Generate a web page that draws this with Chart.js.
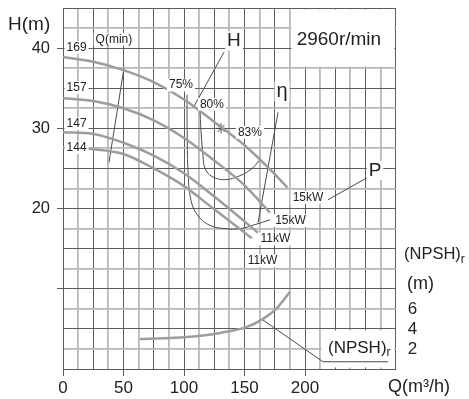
<!DOCTYPE html>
<html>
<head>
<meta charset="utf-8">
<script src="https://cdn.jsdelivr.net/npm/chart.js@4.4.0/dist/chart.umd.min.js"></script>
<style>
  html, body { margin: 0; padding: 0; background: #fff; }
  #wrap { width: 469px; height: 399px; }
</style>
</head>
<body>
<div id="wrap"><canvas id="pumpChart" width="469" height="399"></canvas></div>
<script>
// H-Q curves, one per impeller diameter (mm)
const flow169 = [0, 25, 50, 75, 100, 125, 150, 175, 185.5];
const head169 = [38.9, 38.3, 37.25, 35.75, 33.6, 30.8, 27.9, 24.3, 22.6];
const flow157 = [0, 25, 50, 75, 100, 125, 150, 171];
const head157 = [33.75, 33.4, 32.5, 31.0, 28.8, 26.0, 22.9, 19.5];
const flow147 = [0, 25, 50, 75, 100, 125, 150, 161];
const head147 = [29.5, 29.3, 28.2, 26.6, 24.4, 21.5, 18.4, 17.0];
const flow144 = [0, 25, 50, 75, 100, 125, 150, 156];
const head144 = [27.6, 27.4, 26.8, 25.0, 22.8, 19.9, 17.0, 16.3];

// (NPSH)r curve, read on the right scale (m)
const flowNpsh = [63.6, 102.5, 130, 152, 165.3, 177, 187.6];
const npshR = [3.0, 3.2, 3.6, 4.2, 5.0, 6.1, 7.7];

// iso-efficiency curves
const eta75Q = [102.5, 102.6, 103.3, 105.8, 111.6, 121.5, 133.9, 146.3, 158.7, 171.1];
const eta75H = [34.2, 29.75, 24.75, 21.0, 19.1, 17.9, 17.5, 17.5, 18.0, 18.6];
const eta80Q = [113.2, 114, 115.7, 117.4, 123.1, 133.9, 146.3, 156.2, 162.8];
const eta80H = [32.5, 29.75, 26.6, 25.0, 24.0, 23.6, 24.1, 25.0, 26.1];
const bestQ = [130.6];
const bestH = [30.0];

// leader lines
const leaderHQ = [133.1, 108.3];
const leaderHH = [39.5, 32.75];
const leaderEtaQ = [177.7, 161.2];
const leaderEtaH = [32.0, 18.25];
const leaderQminQ = [50.4, 38];
const leaderQminH = [37.5, 25.75];
const leaderPQ = [252, 219];
const leaderPH = [23.9, 21.1];
const leaderNpshQ = [165.3, 214.9, 268.6];
const leaderNpshH = [6.1, 0.9, 0.9];

// axis ticks
const qTicks = [0, 50, 100, 150, 200];
const hTicks = [20, 30, 40];
const hTickMarks = [10, 20, 30, 40];
const npshTicks = [2, 4, 6];

const FONT = "'Liberation Sans', Arial, sans-serif";
const NARROW = "'Liberation Sans Narrow', 'Liberation Sans', Arial, sans-serif";
const TEXT = '#222';
const DARK = '#5c5c5c';
const LIGHT = '#b8b8b8';

const small = '12px ' + NARROW;
const big = '19px ' + FONT;

// text on the plot, anchored in data units
const notes = [
  { text: '169', q: 11.2, h: 40.1, font: small },
  { text: '157', q: 11.2, h: 35.1, font: small },
  { text: '147', q: 11.2, h: 30.6, font: small },
  { text: '144', q: 11.2, h: 27.6, font: small },
  { text: 'Q(min)', q: 42.1, h: 41.1, font: small },
  { text: '75%', q: 97.5, h: 35.4, font: small },
  { text: '80%', q: 123.1, h: 33.0, font: small },
  { text: '83%', q: 154.5, h: 29.5, font: small },
  { text: '15kW', q: 202.5, h: 21.4, font: small },
  { text: '15kW', q: 188, h: 18.5, font: small },
  { text: '11kW', q: 175.6, h: 16.2, font: small },
  { text: '11kW', q: 164.9, h: 13.5, font: small },
  { text: 'H', q: 141.3, h: 40.9, font: big },
  { text: 'η', q: 181, h: 34.6, font: '20px ' + FONT },
  { text: 'P', q: 257.9, h: 24.75, font: big },
  { text: '2960r/min', q: 228, h: 41, font: big, plain: true }
];

// grid-free corners
const blankBoxes = [
  { q0: 187.5, q1: 275, h0: 37.5, h1: 45 },
  { q0: 212.5, q1: 275, h0: 0, h1: 5 }
];

const pts = (qs, hs) => qs.map((q, i) => ({ x: q, y: hs[i] }));
const near = (v, step) => Math.abs(v / step - Math.round(v / step)) < 1e-6;
const inList = (v, list) => list.some(t => Math.abs(t - v) < 1e-6);

function headCurve(qs, hs) {
    return {
        data: pts(qs, hs),
        showLine: true,
        borderColor: '#9d9d9d',
        borderWidth: 2.5,
        pointRadius: 0,
        cubicInterpolationMode: 'monotone',
        yAxisID: 'y'
    };
}

function thinLine(qs, hs, tension) {
    return {
        data: pts(qs, hs),
        showLine: true,
        borderColor: '#4a4a4a',
        borderWidth: 1,
        pointRadius: 0,
        tension: tension,
        yAxisID: 'y'
    };
}

const overlay = {
    id: 'overlay',
    beforeDatasetsDraw(chart) {
        const { ctx, scales: { x, y } } = chart;
        ctx.save();
        ctx.fillStyle = '#fff';
        blankBoxes.forEach(b => {
            const x0 = x.getPixelForValue(b.q0), x1 = x.getPixelForValue(b.q1);
            const y0 = y.getPixelForValue(b.h1), y1 = y.getPixelForValue(b.h0);
            ctx.fillRect(x0 + 1.5, y0 + 1.5, x1 - x0 - 3, y1 - y0 - 3);
        });
        ctx.restore();
    },
    afterDatasetsDraw(chart) {
        const { ctx, scales: { x, y } } = chart;
        ctx.save();
        ctx.textAlign = 'center';
        ctx.textBaseline = 'middle';
        notes.forEach(n => {
            const px = x.getPixelForValue(n.q);
            const py = y.getPixelForValue(n.h);
            ctx.font = n.font;
            const w = ctx.measureText(n.text).width;
            const size = parseFloat(n.font);
            if (!n.plain) {
                ctx.fillStyle = '#fff';
                ctx.fillRect(px - w / 2 - 2, py - size * 0.45 - 1, w + 4, size * 0.9 + 2);
            }
            ctx.fillStyle = TEXT;
            ctx.fillText(n.text, px, py);
        });

        // lower (NPSH)r label
        ctx.textAlign = 'left';
        ctx.textBaseline = 'alphabetic';
        ctx.font = '17px ' + FONT;
        ctx.fillText('(NPSH)', 328, 353);
        const w = ctx.measureText('(NPSH)').width;
        ctx.font = '12px ' + FONT;
        ctx.fillText('r', 328 + w, 356);
        ctx.restore();
    },
    afterDraw(chart) {
        const { ctx } = chart;
        ctx.save();
        ctx.fillStyle = TEXT;
        ctx.textAlign = 'left';
        ctx.textBaseline = 'alphabetic';
        ctx.font = '19px ' + FONT;
        ctx.fillText('H(m)', 8, 29.5);
        ctx.font = '18px ' + FONT;
        ctx.fillText('Q(m³/h)', 388, 392);
        ctx.font = '16.5px ' + FONT;
        ctx.fillText('(NPSH)', 404, 259);
        const w = ctx.measureText('(NPSH)').width;
        ctx.font = '12px ' + FONT;
        ctx.fillText('r', 404 + w, 263);
        ctx.font = '18px ' + FONT;
        ctx.fillText('(m)', 407, 289);
        ctx.restore();
    }
};

new Chart(document.getElementById('pumpChart'), {
    type: 'scatter',
    data: {
        datasets: [
            headCurve(flow169, head169),
            headCurve(flow157, head157),
            headCurve(flow147, head147),
            headCurve(flow144, head144),
            {
                data: pts(flowNpsh, npshR),
                showLine: true,
                borderColor: '#9d9d9d',
                borderWidth: 2.5,
                pointRadius: 0,
                cubicInterpolationMode: 'monotone',
                yAxisID: 'y2'
            },
            thinLine(eta75Q, eta75H, 0.4),
            thinLine(eta80Q, eta80H, 0.4),
            thinLine(leaderHQ, leaderHH, 0),
            thinLine(leaderEtaQ, leaderEtaH, 0),
            thinLine(leaderQminQ, leaderQminH, 0),
            thinLine(leaderPQ, leaderPH, 0),
            thinLine(leaderNpshQ, leaderNpshH, 0),
            {
                data: pts(bestQ, bestH),
                showLine: false,
                pointStyle: 'star',
                pointRadius: 5,
                borderColor: '#444',
                borderWidth: 1,
                yAxisID: 'y'
            }
        ]
    },
    options: {
        responsive: false,
        animation: false,
        devicePixelRatio: 1,
        layout: { padding: { top: 8, left: 0, right: 0, bottom: 0 } },
        plugins: { legend: { display: false }, tooltip: { enabled: false } },
        scales: {
            x: {
                type: 'linear',
                position: 'bottom',
                min: 0,
                max: 275,
                afterFit(scale) {
                    scale.height = 30;
                    scale.paddingLeft = 0;
                    scale.paddingRight = 0;
                },
                border: { display: true, color: DARK, width: 1 },
                grid: {
                    color: c => (c.tick && near(c.tick.value, 25)) ? DARK : LIGHT,
                    lineWidth: c => (c.tick && near(c.tick.value, 25)) ? 1 : 1.8,
                    tickColor: c => (c.tick && inList(c.tick.value, qTicks)) ? DARK : 'rgba(0,0,0,0)',
                    tickWidth: 1,
                    tickLength: 7
                },
                ticks: {
                    stepSize: 12.5,
                    autoSkip: false,
                    maxRotation: 0,
                    padding: 2,
                    color: TEXT,
                    font: { family: FONT, size: 17 },
                    callback: v => inList(v, qTicks) ? String(v) : ''
                }
            },
            y: {
                type: 'linear',
                position: 'left',
                min: 0,
                max: 45,
                afterFit(scale) {
                    scale.width = 63;
                    scale.paddingTop = 0;
                    scale.paddingBottom = 0;
                },
                border: { display: true, color: DARK, width: 1 },
                grid: {
                    color: c => (c.tick && near(c.tick.value, 5)) ? DARK : LIGHT,
                    lineWidth: c => (c.tick && near(c.tick.value, 5)) ? 1 : 1.8,
                    tickColor: c => (c.tick && inList(c.tick.value, hTickMarks)) ? DARK : 'rgba(0,0,0,0)',
                    tickWidth: 1,
                    tickLength: 6
                },
                ticks: {
                    stepSize: 2.5,
                    autoSkip: false,
                    padding: 7,
                    color: TEXT,
                    font: { family: FONT, size: 16.5 },
                    callback: v => inList(v, hTicks) ? String(v) : ''
                }
            },
            y2: {
                type: 'linear',
                position: 'right',
                min: 0,
                max: 36,
                afterFit(scale) {
                    scale.width = 73.25;
                    scale.paddingTop = 0;
                    scale.paddingBottom = 0;
                },
                border: { display: false },
                grid: { display: false, drawTicks: false },
                ticks: {
                    stepSize: 2,
                    autoSkip: false,
                    padding: 12,
                    color: TEXT,
                    font: { family: FONT, size: 17 },
                    callback: v => inList(v, npshTicks) ? String(v) : ''
                }
            }
        }
    },
    plugins: [overlay]
});
</script>
</body>
</html>
